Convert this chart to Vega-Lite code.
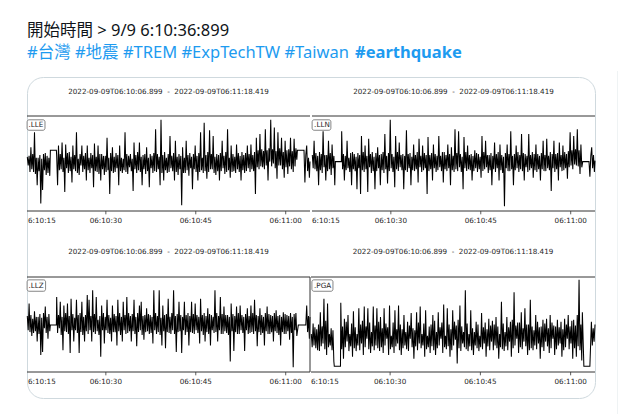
{
  "$schema": "https://vega.github.io/schema/vega-lite/v6.json",
  "background": "#ffffff",
  "padding": {"left": 24, "top": 22, "right": 0, "bottom": 0},
  "spacing": 19,
  "hconcat": [
    {
      "spacing": -1,
      "vconcat": [
        {
          "spacing": 0,
          "hconcat": [
            {
              "width": 328, "height": 1,
              "data": {"values": [{}]},
              "mark": {"type": "text"},
              "encoding": {"text": {"value": ""}},
              "title": {"text": "開始時間 > 9/9 6:10:36:899", "subtitle": "#台灣 #地震 #TREM #ExpTechTW #Taiwan"}
            },
            {
              "width": 110, "height": 1,
              "data": {"values": [{}]},
              "mark": {"type": "text"},
              "encoding": {"text": {"value": ""}},
              "title": {"text": " ", "subtitle": "#earthquake", "subtitleFontWeight": "bold"}
            }
          ]
        },
        {
          "width": 568, "height": 321,
          "view": {"stroke": "#cfd9de", "strokeWidth": 1, "cornerRadius": 16},
          "resolve": {"scale": {"x": "independent", "y": "independent"}},
          "layer": [
            {
              "layer": [
                {"data": {"name": "lle"}, "mark": {"type": "line", "color": "#000000", "strokeWidth": 1.05},
                 "encoding": {"x": {"field": "t", "type": "quantitative", "scale": {"domain": [16.85, 64.05], "range": [0, 283], "nice": false, "zero": false}, "axis": null},
                              "y": {"field": "v", "type": "quantitative", "scale": {"domain": [-50, 50], "range": [134, 39], "nice": false, "zero": false}, "axis": null}}},
                {"data": {"values": [{}]}, "mark": {"type": "rule", "color": "#333333", "strokeWidth": 1},
                 "encoding": {"x": {"datum": 16.85, "type": "quantitative", "scale": {"domain": [16.85, 64.05], "range": [0, 283], "nice": false, "zero": false}, "axis": null}, "x2": {"datum": 64.05},
                              "y": {"datum": 50, "type": "quantitative", "scale": {"domain": [-50, 50], "range": [134, 39], "nice": false, "zero": false}, "axis": null}}},
                {"data": {"values": [{}]}, "mark": {"type": "rule", "color": "#333333", "strokeWidth": 1},
                 "encoding": {"x": {"datum": 16.85, "type": "quantitative", "scale": {"domain": [16.85, 64.05], "range": [0, 283], "nice": false, "zero": false}, "axis": null}, "x2": {"datum": 64.05},
                              "y": {"datum": -50, "type": "quantitative", "scale": {"domain": [-50, 50], "range": [134, 39], "nice": false, "zero": false}, "axis": null}}},
                {"data": {"name": "ticks"}, "mark": {"type": "rule", "color": "#333333", "strokeWidth": 0.8},
                 "encoding": {"x": {"field": "t", "type": "quantitative", "scale": {"domain": [16.85, 64.05], "range": [0, 283], "nice": false, "zero": false}, "axis": null},
                              "y": {"datum": -50, "type": "quantitative", "scale": {"domain": [-50, 50], "range": [134, 39], "nice": false, "zero": false}, "axis": null}, "y2": {"datum": -53.5}}},
                {"data": {"name": "ticks"}, "mark": {"type": "text", "font": "DejaVu Sans", "fontSize": 7.2, "color": "#262626", "baseline": "middle", "dy": 10},
                 "encoding": {"x": {"field": "t", "type": "quantitative", "scale": {"domain": [16.85, 64.05], "range": [0, 283], "nice": false, "zero": false}, "axis": null},
                              "y": {"datum": -50, "type": "quantitative", "scale": {"domain": [-50, 50], "range": [134, 39], "nice": false, "zero": false}, "axis": null}, "text": {"field": "l"}}},
                {"data": {"values": [{"l": "6:10:15"}]}, "mark": {"type": "text", "font": "DejaVu Sans", "fontSize": 7.2, "color": "#262626", "baseline": "middle", "align": "left", "dx": 1, "dy": 10},
                 "encoding": {"x": {"datum": 16.85, "type": "quantitative", "scale": {"domain": [16.85, 64.05], "range": [0, 283], "nice": false, "zero": false}, "axis": null},
                              "y": {"datum": -50, "type": "quantitative", "scale": {"domain": [-50, 50], "range": [134, 39], "nice": false, "zero": false}, "axis": null}, "text": {"field": "l"}}},
                {"data": {"values": [{"l": "2022-09-09T06:10:06.899\u00a0 -\u00a0 2022-09-09T06:11:18.419"}]}, "mark": {"type": "text", "font": "DejaVu Sans", "fontSize": 7.2, "color": "#262626", "baseline": "middle", "dy": -24},
                 "encoding": {"x": {"datum": 40.45, "type": "quantitative", "scale": {"domain": [16.85, 64.05], "range": [0, 283], "nice": false, "zero": false}, "axis": null},
                              "y": {"datum": 50, "type": "quantitative", "scale": {"domain": [-50, 50], "range": [134, 39], "nice": false, "zero": false}, "axis": null}, "text": {"field": "l"}}},
                {"data": {"values": [{}]}, "mark": {"type": "rect", "fill": "#ffffff", "fillOpacity": 0.85, "stroke": "#666666", "strokeWidth": 0.8, "cornerRadius": 2},
                 "encoding": {"x": {"datum": 16.87, "type": "quantitative", "scale": {"domain": [16.85, 64.05], "range": [0, 283], "nice": false, "zero": false}, "axis": null}, "x2": {"datum": 19.85},
                              "y": {"datum": 46, "type": "quantitative", "scale": {"domain": [-50, 50], "range": [134, 39], "nice": false, "zero": false}, "axis": null}, "y2": {"datum": 35}}},
                {"data": {"values": [{"l": ".LLE"}]}, "mark": {"type": "text", "font": "DejaVu Sans", "fontSize": 7.2, "color": "#262626", "baseline": "middle", "align": "left"},
                 "encoding": {"x": {"datum": 17.1, "type": "quantitative", "scale": {"domain": [16.85, 64.05], "range": [0, 283], "nice": false, "zero": false}, "axis": null},
                              "y": {"datum": 40.5, "type": "quantitative", "scale": {"domain": [-50, 50], "range": [134, 39], "nice": false, "zero": false}, "axis": null}, "text": {"field": "l"}}}
              ]
            },
            {
              "layer": [
                {"data": {"name": "lln"}, "mark": {"type": "line", "color": "#000000", "strokeWidth": 1.05},
                 "encoding": {"x": {"field": "t", "type": "quantitative", "scale": {"domain": [16.85, 64.05], "range": [285, 568], "nice": false, "zero": false}, "axis": null},
                              "y": {"field": "v", "type": "quantitative", "scale": {"domain": [-50, 50], "range": [134, 39], "nice": false, "zero": false}, "axis": null}}},
                {"data": {"values": [{}]}, "mark": {"type": "rule", "color": "#333333", "strokeWidth": 1},
                 "encoding": {"x": {"datum": 16.85, "type": "quantitative", "scale": {"domain": [16.85, 64.05], "range": [285, 568], "nice": false, "zero": false}, "axis": null}, "x2": {"datum": 64.05},
                              "y": {"datum": 50, "type": "quantitative", "scale": {"domain": [-50, 50], "range": [134, 39], "nice": false, "zero": false}, "axis": null}}},
                {"data": {"values": [{}]}, "mark": {"type": "rule", "color": "#333333", "strokeWidth": 1},
                 "encoding": {"x": {"datum": 16.85, "type": "quantitative", "scale": {"domain": [16.85, 64.05], "range": [285, 568], "nice": false, "zero": false}, "axis": null}, "x2": {"datum": 64.05},
                              "y": {"datum": -50, "type": "quantitative", "scale": {"domain": [-50, 50], "range": [134, 39], "nice": false, "zero": false}, "axis": null}}},
                {"data": {"name": "ticks"}, "mark": {"type": "rule", "color": "#333333", "strokeWidth": 0.8},
                 "encoding": {"x": {"field": "t", "type": "quantitative", "scale": {"domain": [16.85, 64.05], "range": [285, 568], "nice": false, "zero": false}, "axis": null},
                              "y": {"datum": -50, "type": "quantitative", "scale": {"domain": [-50, 50], "range": [134, 39], "nice": false, "zero": false}, "axis": null}, "y2": {"datum": -53.5}}},
                {"data": {"name": "ticks"}, "mark": {"type": "text", "font": "DejaVu Sans", "fontSize": 7.2, "color": "#262626", "baseline": "middle", "dy": 10},
                 "encoding": {"x": {"field": "t", "type": "quantitative", "scale": {"domain": [16.85, 64.05], "range": [285, 568], "nice": false, "zero": false}, "axis": null},
                              "y": {"datum": -50, "type": "quantitative", "scale": {"domain": [-50, 50], "range": [134, 39], "nice": false, "zero": false}, "axis": null}, "text": {"field": "l"}}},
                {"data": {"values": [{"l": "6:10:15"}]}, "mark": {"type": "text", "font": "DejaVu Sans", "fontSize": 7.2, "color": "#262626", "baseline": "middle", "align": "left", "dx": 0, "dy": 10},
                 "encoding": {"x": {"datum": 16.85, "type": "quantitative", "scale": {"domain": [16.85, 64.05], "range": [285, 568], "nice": false, "zero": false}, "axis": null},
                              "y": {"datum": -50, "type": "quantitative", "scale": {"domain": [-50, 50], "range": [134, 39], "nice": false, "zero": false}, "axis": null}, "text": {"field": "l"}}},
                {"data": {"values": [{"l": "2022-09-09T06:10:06.899\u00a0 -\u00a0 2022-09-09T06:11:18.419"}]}, "mark": {"type": "text", "font": "DejaVu Sans", "fontSize": 7.2, "color": "#262626", "baseline": "middle", "dy": -24},
                 "encoding": {"x": {"datum": 40.45, "type": "quantitative", "scale": {"domain": [16.85, 64.05], "range": [285, 568], "nice": false, "zero": false}, "axis": null},
                              "y": {"datum": 50, "type": "quantitative", "scale": {"domain": [-50, 50], "range": [134, 39], "nice": false, "zero": false}, "axis": null}, "text": {"field": "l"}}},
                {"data": {"values": [{}]}, "mark": {"type": "rect", "fill": "#ffffff", "fillOpacity": 0.85, "stroke": "#666666", "strokeWidth": 0.8, "cornerRadius": 2},
                 "encoding": {"x": {"datum": 16.87, "type": "quantitative", "scale": {"domain": [16.85, 64.05], "range": [285, 568], "nice": false, "zero": false}, "axis": null}, "x2": {"datum": 20.0},
                              "y": {"datum": 46, "type": "quantitative", "scale": {"domain": [-50, 50], "range": [134, 39], "nice": false, "zero": false}, "axis": null}, "y2": {"datum": 35}}},
                {"data": {"values": [{"l": ".LLN"}]}, "mark": {"type": "text", "font": "DejaVu Sans", "fontSize": 7.2, "color": "#262626", "baseline": "middle", "align": "left"},
                 "encoding": {"x": {"datum": 17.2, "type": "quantitative", "scale": {"domain": [16.85, 64.05], "range": [285, 568], "nice": false, "zero": false}, "axis": null},
                              "y": {"datum": 40.5, "type": "quantitative", "scale": {"domain": [-50, 50], "range": [134, 39], "nice": false, "zero": false}, "axis": null}, "text": {"field": "l"}}}
              ]
            },
            {
              "layer": [
                {"data": {"name": "llz"}, "mark": {"type": "line", "color": "#000000", "strokeWidth": 1.05},
                 "encoding": {"x": {"field": "t", "type": "quantitative", "scale": {"domain": [16.85, 64.05], "range": [0, 283], "nice": false, "zero": false}, "axis": null},
                              "y": {"field": "v", "type": "quantitative", "scale": {"domain": [-50, 50], "range": [295, 200], "nice": false, "zero": false}, "axis": null}}},
                {"data": {"values": [{}]}, "mark": {"type": "rule", "color": "#333333", "strokeWidth": 1},
                 "encoding": {"x": {"datum": 16.85, "type": "quantitative", "scale": {"domain": [16.85, 64.05], "range": [0, 283], "nice": false, "zero": false}, "axis": null}, "x2": {"datum": 64.05},
                              "y": {"datum": 50, "type": "quantitative", "scale": {"domain": [-50, 50], "range": [295, 200], "nice": false, "zero": false}, "axis": null}}},
                {"data": {"values": [{}]}, "mark": {"type": "rule", "color": "#333333", "strokeWidth": 1},
                 "encoding": {"x": {"datum": 16.85, "type": "quantitative", "scale": {"domain": [16.85, 64.05], "range": [0, 283], "nice": false, "zero": false}, "axis": null}, "x2": {"datum": 64.05},
                              "y": {"datum": -50, "type": "quantitative", "scale": {"domain": [-50, 50], "range": [295, 200], "nice": false, "zero": false}, "axis": null}}},
                {"data": {"values": [{}]}, "mark": {"type": "rule", "color": "#333333", "strokeWidth": 1},
                 "encoding": {"x": {"datum": 64.05, "type": "quantitative", "scale": {"domain": [16.85, 64.05], "range": [0, 283], "nice": false, "zero": false}, "axis": null},
                              "y": {"datum": -50, "type": "quantitative", "scale": {"domain": [-50, 50], "range": [295, 200], "nice": false, "zero": false}, "axis": null}, "y2": {"datum": 50}}},
                {"data": {"name": "ticks"}, "mark": {"type": "rule", "color": "#333333", "strokeWidth": 0.8},
                 "encoding": {"x": {"field": "t", "type": "quantitative", "scale": {"domain": [16.85, 64.05], "range": [0, 283], "nice": false, "zero": false}, "axis": null},
                              "y": {"datum": -50, "type": "quantitative", "scale": {"domain": [-50, 50], "range": [295, 200], "nice": false, "zero": false}, "axis": null}, "y2": {"datum": -53.5}}},
                {"data": {"name": "ticks"}, "mark": {"type": "text", "font": "DejaVu Sans", "fontSize": 7.2, "color": "#262626", "baseline": "middle", "dy": 10},
                 "encoding": {"x": {"field": "t", "type": "quantitative", "scale": {"domain": [16.85, 64.05], "range": [0, 283], "nice": false, "zero": false}, "axis": null},
                              "y": {"datum": -50, "type": "quantitative", "scale": {"domain": [-50, 50], "range": [295, 200], "nice": false, "zero": false}, "axis": null}, "text": {"field": "l"}}},
                {"data": {"values": [{"l": "6:10:15"}]}, "mark": {"type": "text", "font": "DejaVu Sans", "fontSize": 7.2, "color": "#262626", "baseline": "middle", "align": "left", "dx": 1, "dy": 10},
                 "encoding": {"x": {"datum": 16.85, "type": "quantitative", "scale": {"domain": [16.85, 64.05], "range": [0, 283], "nice": false, "zero": false}, "axis": null},
                              "y": {"datum": -50, "type": "quantitative", "scale": {"domain": [-50, 50], "range": [295, 200], "nice": false, "zero": false}, "axis": null}, "text": {"field": "l"}}},
                {"data": {"values": [{"l": "2022-09-09T06:10:06.899\u00a0 -\u00a0 2022-09-09T06:11:18.419"}]}, "mark": {"type": "text", "font": "DejaVu Sans", "fontSize": 7.2, "color": "#262626", "baseline": "middle", "dy": -25},
                 "encoding": {"x": {"datum": 40.45, "type": "quantitative", "scale": {"domain": [16.85, 64.05], "range": [0, 283], "nice": false, "zero": false}, "axis": null},
                              "y": {"datum": 50, "type": "quantitative", "scale": {"domain": [-50, 50], "range": [295, 200], "nice": false, "zero": false}, "axis": null}, "text": {"field": "l"}}},
                {"data": {"values": [{}]}, "mark": {"type": "rect", "fill": "#ffffff", "fillOpacity": 0.85, "stroke": "#666666", "strokeWidth": 0.8, "cornerRadius": 2},
                 "encoding": {"x": {"datum": 16.87, "type": "quantitative", "scale": {"domain": [16.85, 64.05], "range": [0, 283], "nice": false, "zero": false}, "axis": null}, "x2": {"datum": 19.95},
                              "y": {"datum": 47, "type": "quantitative", "scale": {"domain": [-50, 50], "range": [295, 200], "nice": false, "zero": false}, "axis": null}, "y2": {"datum": 35}}},
                {"data": {"values": [{"l": ".LLZ"}]}, "mark": {"type": "text", "font": "DejaVu Sans", "fontSize": 7.2, "color": "#262626", "baseline": "middle", "align": "left"},
                 "encoding": {"x": {"datum": 17.1, "type": "quantitative", "scale": {"domain": [16.85, 64.05], "range": [0, 283], "nice": false, "zero": false}, "axis": null},
                              "y": {"datum": 41, "type": "quantitative", "scale": {"domain": [-50, 50], "range": [295, 200], "nice": false, "zero": false}, "axis": null}, "text": {"field": "l"}}}
              ]
            },
            {
              "layer": [
                {"data": {"name": "pga"}, "mark": {"type": "line", "color": "#000000", "strokeWidth": 1.05},
                 "encoding": {"x": {"field": "t", "type": "quantitative", "scale": {"domain": [16.85, 64.05], "range": [284, 568], "nice": false, "zero": false}, "axis": null},
                              "y": {"field": "v", "type": "quantitative", "scale": {"domain": [-50, 50], "range": [295, 200], "nice": false, "zero": false}, "axis": null}}},
                {"data": {"values": [{}]}, "mark": {"type": "rule", "color": "#333333", "strokeWidth": 1},
                 "encoding": {"x": {"datum": 16.85, "type": "quantitative", "scale": {"domain": [16.85, 64.05], "range": [284, 568], "nice": false, "zero": false}, "axis": null}, "x2": {"datum": 64.05},
                              "y": {"datum": 50, "type": "quantitative", "scale": {"domain": [-50, 50], "range": [295, 200], "nice": false, "zero": false}, "axis": null}}},
                {"data": {"values": [{}]}, "mark": {"type": "rule", "color": "#333333", "strokeWidth": 1},
                 "encoding": {"x": {"datum": 16.85, "type": "quantitative", "scale": {"domain": [16.85, 64.05], "range": [284, 568], "nice": false, "zero": false}, "axis": null}, "x2": {"datum": 64.05},
                              "y": {"datum": -50, "type": "quantitative", "scale": {"domain": [-50, 50], "range": [295, 200], "nice": false, "zero": false}, "axis": null}}},
                {"data": {"name": "ticks"}, "mark": {"type": "rule", "color": "#333333", "strokeWidth": 0.8},
                 "encoding": {"x": {"field": "t", "type": "quantitative", "scale": {"domain": [16.85, 64.05], "range": [284, 568], "nice": false, "zero": false}, "axis": null},
                              "y": {"datum": -50, "type": "quantitative", "scale": {"domain": [-50, 50], "range": [295, 200], "nice": false, "zero": false}, "axis": null}, "y2": {"datum": -53.5}}},
                {"data": {"name": "ticks"}, "mark": {"type": "text", "font": "DejaVu Sans", "fontSize": 7.2, "color": "#262626", "baseline": "middle", "dy": 10},
                 "encoding": {"x": {"field": "t", "type": "quantitative", "scale": {"domain": [16.85, 64.05], "range": [284, 568], "nice": false, "zero": false}, "axis": null},
                              "y": {"datum": -50, "type": "quantitative", "scale": {"domain": [-50, 50], "range": [295, 200], "nice": false, "zero": false}, "axis": null}, "text": {"field": "l"}}},
                {"data": {"values": [{"l": "6:10:15"}]}, "mark": {"type": "text", "font": "DejaVu Sans", "fontSize": 7.2, "color": "#262626", "baseline": "middle", "align": "left", "dx": 0, "dy": 10},
                 "encoding": {"x": {"datum": 16.85, "type": "quantitative", "scale": {"domain": [16.85, 64.05], "range": [284, 568], "nice": false, "zero": false}, "axis": null},
                              "y": {"datum": -50, "type": "quantitative", "scale": {"domain": [-50, 50], "range": [295, 200], "nice": false, "zero": false}, "axis": null}, "text": {"field": "l"}}},
                {"data": {"values": [{"l": "2022-09-09T06:10:06.899\u00a0 -\u00a0 2022-09-09T06:11:18.419"}]}, "mark": {"type": "text", "font": "DejaVu Sans", "fontSize": 7.2, "color": "#262626", "baseline": "middle", "dy": -25},
                 "encoding": {"x": {"datum": 40.45, "type": "quantitative", "scale": {"domain": [16.85, 64.05], "range": [284, 568], "nice": false, "zero": false}, "axis": null},
                              "y": {"datum": 50, "type": "quantitative", "scale": {"domain": [-50, 50], "range": [295, 200], "nice": false, "zero": false}, "axis": null}, "text": {"field": "l"}}},
                {"data": {"values": [{}]}, "mark": {"type": "rect", "fill": "#ffffff", "fillOpacity": 0.85, "stroke": "#666666", "strokeWidth": 0.8, "cornerRadius": 2},
                 "encoding": {"x": {"datum": 17.0, "type": "quantitative", "scale": {"domain": [16.85, 64.05], "range": [284, 568], "nice": false, "zero": false}, "axis": null}, "x2": {"datum": 20.5},
                              "y": {"datum": 47, "type": "quantitative", "scale": {"domain": [-50, 50], "range": [295, 200], "nice": false, "zero": false}, "axis": null}, "y2": {"datum": 35}}},
                {"data": {"values": [{"l": ".PGA"}]}, "mark": {"type": "text", "font": "DejaVu Sans", "fontSize": 7.2, "color": "#262626", "baseline": "middle", "align": "left"},
                 "encoding": {"x": {"datum": 17.35, "type": "quantitative", "scale": {"domain": [16.85, 64.05], "range": [284, 568], "nice": false, "zero": false}, "axis": null},
                              "y": {"datum": 41, "type": "quantitative", "scale": {"domain": [-50, 50], "range": [295, 200], "nice": false, "zero": false}, "axis": null}, "text": {"field": "l"}}}
              ]
            }
          ]
        }
      ]
    },
    {
      "width": 1, "height": 392,
      "data": {"values": [{}]},
      "mark": {"type": "text"},
      "encoding": {"text": {"value": ""}},
      "view": {"fill": "#eff3f4", "stroke": null}
    }
  ],
  "config": {
    "view": {"stroke": null},
    "title": {
      "anchor": "start", "frame": "group", "offset": 0,
      "font": "Noto Sans, Noto Sans CJK TC", "fontSize": 16.5, "fontWeight": "normal", "color": "#0f1419",
      "subtitleFont": "Noto Sans, Noto Sans CJK TC", "subtitleFontSize": 16.5, "subtitleColor": "#1d9bf0", "subtitlePadding": 6
    }
  },
  "datasets": {
    "ticks": [{"t": 30, "l": "06:10:30"}, {"t": 45, "l": "06:10:45"}, {"t": 60, "l": "06:11:00"}],
    "lle": [
      {"t":16.9,"v":7},{"t":17.05,"v":-2},{"t":17.2,"v":8},{"t":17.35,"v":-9},{"t":17.5,"v":17},{"t":17.65,"v":-6},{"t":17.8,"v":10},{"t":17.95,"v":-9},{"t":18.1,"v":33},{"t":18.25,"v":-11},{"t":18.4,"v":6},{"t":18.55,"v":-23},{"t":18.7,"v":6},{"t":18.85,"v":-8},{"t":19.0,"v":9},{"t":19.15,"v":-42},{"t":19.3,"v":5},{"t":19.45,"v":-28},{"t":19.6,"v":10},{"t":19.75,"v":-7},{"t":19.9,"v":11},{"t":20.05,"v":-12},{"t":20.2,"v":8},{"t":20.35,"v":-10},{"t":20.5,"v":6},{"t":20.65,"v":-13},{"t":20.75,"v":14},{"t":21.75,"v":14},
      {"t":21.8,"v":8},{"t":21.95,"v":-23},{"t":22.1,"v":19},{"t":22.25,"v":-7},{"t":22.4,"v":10},{"t":22.55,"v":-6},{"t":22.7,"v":22},{"t":22.85,"v":-9},{"t":23.0,"v":6},{"t":23.15,"v":-30},{"t":23.3,"v":20},{"t":23.45,"v":-5},{"t":23.6,"v":11},{"t":23.75,"v":-10},{"t":23.9,"v":12},{"t":24.05,"v":-8},{"t":24.2,"v":7},{"t":24.35,"v":-20},{"t":24.5,"v":19},{"t":24.65,"v":-6},{"t":24.8,"v":9},{"t":24.95,"v":-8},
      {"t":25.1,"v":33},{"t":25.25,"v":-10},{"t":25.4,"v":5},{"t":25.55,"v":-12},{"t":25.7,"v":10},{"t":25.85,"v":-2},{"t":26.0,"v":19},{"t":26.15,"v":-9},{"t":26.3,"v":8},{"t":26.45,"v":-6},{"t":26.6,"v":11},{"t":26.75,"v":-18},{"t":26.9,"v":19},{"t":27.05,"v":-7},{"t":27.2,"v":6},{"t":27.35,"v":-10},{"t":27.5,"v":11},{"t":27.65,"v":-5},{"t":27.8,"v":9},{"t":27.95,"v":-25},
      {"t":28.1,"v":21},{"t":28.25,"v":-8},{"t":28.4,"v":7},{"t":28.55,"v":-9},{"t":28.7,"v":19},{"t":28.85,"v":-11},{"t":29.0,"v":10},{"t":29.15,"v":-18},{"t":29.3,"v":10},{"t":29.45,"v":-6},{"t":29.6,"v":8},{"t":29.75,"v":-12},{"t":29.9,"v":8},{"t":30.05,"v":-9},{"t":30.2,"v":27},{"t":30.35,"v":-7},{"t":30.5,"v":6},{"t":30.65,"v":-32},{"t":30.8,"v":11},{"t":30.95,"v":-8},
      {"t":31.1,"v":17},{"t":31.25,"v":-10},{"t":31.4,"v":7},{"t":31.55,"v":-9},{"t":31.7,"v":11},{"t":31.85,"v":-5},{"t":32.0,"v":9},{"t":32.15,"v":-23},{"t":32.3,"v":19},{"t":32.45,"v":-8},{"t":32.6,"v":6},{"t":32.75,"v":-10},{"t":32.9,"v":5},{"t":33.05,"v":-7},{"t":33.2,"v":33},{"t":33.35,"v":-9},{"t":33.5,"v":10},{"t":33.65,"v":-11},{"t":33.8,"v":8},{"t":33.95,"v":-4},
      {"t":34.1,"v":10},{"t":34.25,"v":-8},{"t":34.4,"v":5},{"t":34.55,"v":-29},{"t":34.7,"v":22},{"t":34.85,"v":-6},{"t":35.0,"v":9},{"t":35.15,"v":-10},{"t":35.3,"v":12},{"t":35.45,"v":-7},{"t":35.6,"v":22},{"t":35.75,"v":-9},{"t":35.9,"v":7},{"t":36.05,"v":-23},{"t":36.2,"v":9},{"t":36.35,"v":-6},{"t":36.5,"v":10},{"t":36.65,"v":-11},{"t":36.8,"v":17},{"t":36.95,"v":-8},
      {"t":37.1,"v":6},{"t":37.25,"v":-25},{"t":37.4,"v":10},{"t":37.55,"v":-5},{"t":37.7,"v":8},{"t":37.85,"v":-10},{"t":38.0,"v":11},{"t":38.15,"v":-8},{"t":38.3,"v":36},{"t":38.45,"v":-9},{"t":38.6,"v":10},{"t":38.75,"v":-6},{"t":38.9,"v":7},{"t":39.05,"v":-23},{"t":39.2,"v":46},{"t":39.35,"v":-10},{"t":39.5,"v":9},{"t":39.65,"v":-18},{"t":39.8,"v":12},{"t":39.95,"v":-7},
      {"t":40.1,"v":6},{"t":40.25,"v":-10},{"t":40.4,"v":10},{"t":40.55,"v":-9},{"t":40.7,"v":29},{"t":40.85,"v":-5},{"t":41.0,"v":8},{"t":41.15,"v":-8},{"t":41.3,"v":11},{"t":41.45,"v":-18},{"t":41.6,"v":24},{"t":41.75,"v":-9},{"t":41.9,"v":7},{"t":42.05,"v":-12},{"t":42.2,"v":10},{"t":42.35,"v":-6},{"t":42.5,"v":8},{"t":42.65,"v":-44},{"t":42.8,"v":17},{"t":42.95,"v":-10},
      {"t":43.1,"v":6},{"t":43.25,"v":-10},{"t":43.4,"v":24},{"t":43.55,"v":-7},{"t":43.7,"v":9},{"t":43.85,"v":-13},{"t":44.0,"v":11},{"t":44.15,"v":-5},{"t":44.3,"v":7},{"t":44.45,"v":-27},{"t":44.6,"v":10},{"t":44.75,"v":-6},{"t":44.9,"v":19},{"t":45.05,"v":-9},{"t":45.2,"v":8},{"t":45.35,"v":-18},{"t":45.5,"v":11},{"t":45.65,"v":-9},{"t":45.8,"v":33},{"t":45.95,"v":-7},
      {"t":46.1,"v":6},{"t":46.25,"v":-10},{"t":46.4,"v":43},{"t":46.55,"v":-8},{"t":46.7,"v":9},{"t":46.85,"v":-16},{"t":47.0,"v":12},{"t":47.15,"v":-9},{"t":47.3,"v":35},{"t":47.45,"v":-6},{"t":47.6,"v":10},{"t":47.75,"v":-6},{"t":47.9,"v":29},{"t":48.05,"v":-10},{"t":48.2,"v":7},{"t":48.35,"v":-12},{"t":48.5,"v":10},{"t":48.65,"v":-8},{"t":48.8,"v":9},{"t":48.95,"v":-18},
      {"t":49.1,"v":11},{"t":49.25,"v":-8},{"t":49.4,"v":24},{"t":49.55,"v":-5},{"t":49.7,"v":8},{"t":49.85,"v":-11},{"t":50.0,"v":12},{"t":50.15,"v":-9},{"t":50.3,"v":36},{"t":50.45,"v":-7},{"t":50.6,"v":6},{"t":50.75,"v":-15},{"t":50.9,"v":19},{"t":51.05,"v":-9},{"t":51.2,"v":10},{"t":51.35,"v":-8},{"t":51.5,"v":7},{"t":51.65,"v":-10},{"t":51.8,"v":20},{"t":51.95,"v":-6},
      {"t":52.1,"v":11},{"t":52.25,"v":-9},{"t":52.4,"v":8},{"t":52.55,"v":-18},{"t":52.7,"v":12},{"t":52.85,"v":-7},{"t":53.0,"v":9},{"t":53.15,"v":-10},{"t":53.3,"v":11},{"t":53.45,"v":-8},{"t":53.6,"v":19},{"t":53.75,"v":-5},{"t":53.9,"v":10},{"t":54.05,"v":-9},{"t":54.2,"v":20},{"t":54.35,"v":-6},{"t":54.5,"v":9},{"t":54.65,"v":-8},{"t":54.8,"v":12},{"t":54.95,"v":-32},
      {"t":55.1,"v":27},{"t":55.25,"v":-4},{"t":55.4,"v":14},{"t":55.55,"v":-6},{"t":55.7,"v":31},{"t":55.85,"v":-3},{"t":56.0,"v":15},{"t":56.15,"v":-4},{"t":56.3,"v":13},{"t":56.45,"v":-6},{"t":56.6,"v":36},{"t":56.75,"v":-2},{"t":56.9,"v":14},{"t":57.05,"v":-18},{"t":57.2,"v":16},{"t":57.35,"v":2},{"t":57.5,"v":46},{"t":57.65,"v":-3},{"t":57.8,"v":15},{"t":57.95,"v":0},
      {"t":58.1,"v":38},{"t":58.25,"v":-5},{"t":58.4,"v":13},{"t":58.55,"v":-16},{"t":58.7,"v":33},{"t":58.85,"v":-2},{"t":59.0,"v":16},{"t":59.15,"v":-2},{"t":59.3,"v":27},{"t":59.45,"v":-6},{"t":59.6,"v":12},{"t":59.75,"v":-15},{"t":59.9,"v":24},{"t":60.05,"v":-4},{"t":60.2,"v":14},{"t":60.35,"v":-11},{"t":60.5,"v":15},{"t":60.65,"v":-3},{"t":60.8,"v":27},{"t":60.95,"v":-6},
      {"t":61.1,"v":13},{"t":61.25,"v":-9},{"t":61.4,"v":26},{"t":61.55,"v":-3},{"t":61.7,"v":16},{"t":61.85,"v":4},
      {"t":61.95,"v":14},{"t":63.05,"v":14},{"t":63.2,"v":-20},{"t":63.35,"v":9},{"t":63.5,"v":19},{"t":63.65,"v":-8},{"t":63.8,"v":6},{"t":63.95,"v":-15},{"t":64.05,"v":2}
    ],
    "lln": [
      {"t":16.9,"v":9},{"t":17.05,"v":-5},{"t":17.2,"v":24},{"t":17.35,"v":-6},{"t":17.5,"v":11},{"t":17.65,"v":-8},{"t":17.8,"v":8},{"t":17.95,"v":-23},{"t":18.1,"v":12},{"t":18.25,"v":-7},{"t":18.4,"v":10},{"t":18.55,"v":-10},{"t":18.7,"v":34},{"t":18.85,"v":-4},{"t":19.0,"v":9},{"t":19.15,"v":-18},{"t":19.3,"v":9},{"t":19.45,"v":-8},{"t":19.6,"v":24},{"t":19.75,"v":-6},{"t":19.9,"v":11},{"t":20.05,"v":-12},{"t":20.2,"v":20},{"t":20.35,"v":-5},{"t":20.5,"v":8},{"t":20.65,"v":-23},{"t":20.75,"v":2},{"t":21.75,"v":2},
      {"t":21.8,"v":34},{"t":21.95,"v":-6},{"t":22.1,"v":10},{"t":22.25,"v":-18},{"t":22.4,"v":8},{"t":22.55,"v":-7},{"t":22.7,"v":24},{"t":22.85,"v":-5},{"t":23.0,"v":6},{"t":23.15,"v":-9},{"t":23.3,"v":11},{"t":23.45,"v":-23},{"t":23.6,"v":12},{"t":23.75,"v":-6},{"t":23.9,"v":10},{"t":24.05,"v":-8},{"t":24.2,"v":7},{"t":24.35,"v":-27},{"t":24.5,"v":11},{"t":24.65,"v":-5},{"t":24.8,"v":9},{"t":24.95,"v":-32},
      {"t":25.1,"v":29},{"t":25.25,"v":-7},{"t":25.4,"v":12},{"t":25.55,"v":-9},{"t":25.7,"v":19},{"t":25.85,"v":-6},{"t":26.0,"v":8},{"t":26.15,"v":-30},{"t":26.3,"v":26},{"t":26.45,"v":-4},{"t":26.6,"v":10},{"t":26.75,"v":-10},{"t":26.9,"v":12},{"t":27.05,"v":-8},{"t":27.2,"v":7},{"t":27.35,"v":-27},{"t":27.5,"v":11},{"t":27.65,"v":-8},{"t":27.8,"v":17},{"t":27.95,"v":-5},
      {"t":28.1,"v":9},{"t":28.25,"v":-23},{"t":28.4,"v":10},{"t":28.55,"v":-7},{"t":28.7,"v":12},{"t":28.85,"v":-10},{"t":29.0,"v":31},{"t":29.15,"v":-6},{"t":29.3,"v":8},{"t":29.45,"v":-21},{"t":29.6,"v":11},{"t":29.75,"v":-8},{"t":29.9,"v":46},{"t":30.05,"v":-5},{"t":30.2,"v":10},{"t":30.35,"v":-9},{"t":30.5,"v":7},{"t":30.65,"v":-25},{"t":30.8,"v":29},{"t":30.95,"v":-6},
      {"t":31.1,"v":12},{"t":31.25,"v":-8},{"t":31.4,"v":22},{"t":31.55,"v":-4},{"t":31.7,"v":9},{"t":31.85,"v":-7},{"t":32.0,"v":10},{"t":32.15,"v":-27},{"t":32.3,"v":8},{"t":32.45,"v":-7},{"t":32.6,"v":35},{"t":32.75,"v":-9},{"t":32.9,"v":10},{"t":33.05,"v":-5},{"t":33.2,"v":11},{"t":33.35,"v":-23},{"t":33.5,"v":7},{"t":33.65,"v":-7},{"t":33.8,"v":20},{"t":33.95,"v":-8},
      {"t":34.1,"v":9},{"t":34.25,"v":-6},{"t":34.4,"v":12},{"t":34.55,"v":-20},{"t":34.7,"v":26},{"t":34.85,"v":-4},{"t":35.0,"v":8},{"t":35.15,"v":-9},{"t":35.3,"v":19},{"t":35.45,"v":-7},{"t":35.6,"v":11},{"t":35.75,"v":-5},{"t":35.9,"v":9},{"t":36.05,"v":-32},{"t":36.2,"v":28},{"t":36.35,"v":-8},{"t":36.5,"v":9},{"t":36.65,"v":-6},{"t":36.8,"v":11},{"t":36.95,"v":-18},
      {"t":37.1,"v":20},{"t":37.25,"v":-5},{"t":37.4,"v":10},{"t":37.55,"v":-9},{"t":37.7,"v":8},{"t":37.85,"v":-7},{"t":38.0,"v":29},{"t":38.15,"v":-4},{"t":38.3,"v":8},{"t":38.45,"v":-8},{"t":38.6,"v":12},{"t":38.75,"v":-20},{"t":38.9,"v":12},{"t":39.05,"v":-6},{"t":39.2,"v":9},{"t":39.35,"v":-8},{"t":39.5,"v":20},{"t":39.65,"v":-5},{"t":39.8,"v":10},{"t":39.95,"v":-23},
      {"t":40.1,"v":17},{"t":40.25,"v":-7},{"t":40.4,"v":8},{"t":40.55,"v":-9},{"t":40.7,"v":36},{"t":40.85,"v":-6},{"t":41.0,"v":11},{"t":41.15,"v":-8},{"t":41.3,"v":34},{"t":41.45,"v":-4},{"t":41.6,"v":10},{"t":41.75,"v":-9},{"t":41.9,"v":7},{"t":42.05,"v":-27},{"t":42.2,"v":28},{"t":42.35,"v":-5},{"t":42.5,"v":12},{"t":42.65,"v":-8},{"t":42.8,"v":19},{"t":42.95,"v":-6},
      {"t":43.1,"v":9},{"t":43.25,"v":-7},{"t":43.4,"v":10},{"t":43.55,"v":-18},{"t":43.7,"v":8},{"t":43.85,"v":-8},{"t":44.0,"v":14},{"t":44.15,"v":-5},{"t":44.3,"v":11},{"t":44.45,"v":-9},{"t":44.6,"v":10},{"t":44.75,"v":-6},{"t":44.9,"v":7},{"t":45.05,"v":-15},{"t":45.2,"v":29},{"t":45.35,"v":-8},{"t":45.5,"v":12},{"t":45.65,"v":-6},{"t":45.8,"v":24},{"t":45.95,"v":-4},
      {"t":46.1,"v":9},{"t":46.25,"v":-10},{"t":46.4,"v":9},{"t":46.55,"v":-7},{"t":46.7,"v":11},{"t":46.85,"v":-23},{"t":47.0,"v":8},{"t":47.15,"v":-6},{"t":47.3,"v":22},{"t":47.45,"v":-9},{"t":47.6,"v":10},{"t":47.75,"v":-5},{"t":47.9,"v":12},{"t":48.05,"v":-18},{"t":48.2,"v":20},{"t":48.35,"v":-7},{"t":48.5,"v":9},{"t":48.65,"v":-10},{"t":48.8,"v":7},{"t":48.95,"v":-45},
      {"t":49.1,"v":11},{"t":49.25,"v":-5},{"t":49.4,"v":20},{"t":49.55,"v":-8},{"t":49.7,"v":10},{"t":49.85,"v":-8},{"t":50.0,"v":34},{"t":50.15,"v":-6},{"t":50.3,"v":8},{"t":50.45,"v":-23},{"t":50.6,"v":10},{"t":50.75,"v":-7},{"t":50.9,"v":19},{"t":51.05,"v":-5},{"t":51.2,"v":12},{"t":51.35,"v":-9},{"t":51.5,"v":9},{"t":51.65,"v":-6},{"t":51.8,"v":31},{"t":51.95,"v":-8},
      {"t":52.1,"v":11},{"t":52.25,"v":-18},{"t":52.4,"v":10},{"t":52.55,"v":-4},{"t":52.7,"v":8},{"t":52.85,"v":-9},{"t":53.0,"v":31},{"t":53.15,"v":-7},{"t":53.3,"v":9},{"t":53.45,"v":-5},{"t":53.6,"v":12},{"t":53.75,"v":-15},{"t":53.9,"v":10},{"t":54.05,"v":-7},{"t":54.2,"v":20},{"t":54.35,"v":-9},{"t":54.5,"v":10},{"t":54.65,"v":-6},{"t":54.8,"v":8},{"t":54.95,"v":-18},
      {"t":55.1,"v":11},{"t":55.25,"v":-6},{"t":55.4,"v":24},{"t":55.55,"v":-8},{"t":55.7,"v":9},{"t":55.85,"v":-8},{"t":56.0,"v":26},{"t":56.15,"v":-5},{"t":56.3,"v":8},{"t":56.45,"v":-7},{"t":56.6,"v":12},{"t":56.75,"v":-29},{"t":56.9,"v":10},{"t":57.05,"v":-5},{"t":57.2,"v":24},{"t":57.35,"v":-9},{"t":57.5,"v":10},{"t":57.65,"v":-6},{"t":57.8,"v":11},{"t":57.95,"v":-18},
      {"t":58.1,"v":22},{"t":58.25,"v":-4},{"t":58.4,"v":9},{"t":58.55,"v":-8},{"t":58.7,"v":19},{"t":58.85,"v":-7},{"t":59.0,"v":12},{"t":59.15,"v":-5},{"t":59.3,"v":10},{"t":59.45,"v":-16},{"t":59.6,"v":13},{"t":59.75,"v":-4},{"t":59.9,"v":33},{"t":60.05,"v":-2},{"t":60.2,"v":14},{"t":60.35,"v":-6},{"t":60.5,"v":29},{"t":60.65,"v":-1},{"t":60.8,"v":15},{"t":60.95,"v":-2},
      {"t":61.1,"v":36},{"t":61.25,"v":-3},{"t":61.4,"v":14},{"t":61.55,"v":-11},{"t":61.7,"v":20},{"t":61.85,"v":-4},
      {"t":62.0,"v":2},{"t":63.05,"v":2},{"t":63.2,"v":-14},{"t":63.35,"v":8},{"t":63.5,"v":17},{"t":63.65,"v":-5},{"t":63.8,"v":9},{"t":63.95,"v":-9},{"t":64.05,"v":3}
    ],
    "llz": [
      {"t":16.9,"v":9},{"t":17.05,"v":-6},{"t":17.2,"v":22},{"t":17.35,"v":-8},{"t":17.5,"v":10},{"t":17.65,"v":-12},{"t":17.8,"v":6},{"t":17.95,"v":-9},{"t":18.1,"v":14},{"t":18.25,"v":-7},{"t":18.4,"v":8},{"t":18.55,"v":-18},{"t":18.7,"v":8},{"t":18.85,"v":-10},{"t":19.0,"v":11},{"t":19.15,"v":-32},{"t":19.3,"v":7},{"t":19.45,"v":-29},{"t":19.6,"v":12},{"t":19.75,"v":-4},{"t":19.9,"v":19},{"t":20.05,"v":-9},{"t":20.2,"v":8},{"t":20.35,"v":-15},{"t":20.5,"v":11},{"t":20.65,"v":-7},{"t":20.75,"v":-0.5},{"t":21.75,"v":-0.5},
      {"t":21.8,"v":29},{"t":21.95,"v":-9},{"t":22.1,"v":10},{"t":22.25,"v":-4},{"t":22.4,"v":24},{"t":22.55,"v":-11},{"t":22.7,"v":8},{"t":22.85,"v":-27},{"t":23.0,"v":20},{"t":23.15,"v":-7},{"t":23.3,"v":12},{"t":23.45,"v":-8},{"t":23.6,"v":22},{"t":23.75,"v":-10},{"t":23.9,"v":9},{"t":24.05,"v":-30},{"t":24.2,"v":27},{"t":24.35,"v":-6},{"t":24.5,"v":11},{"t":24.65,"v":-18},{"t":24.8,"v":7},{"t":24.95,"v":-6},
      {"t":25.1,"v":26},{"t":25.25,"v":-9},{"t":25.4,"v":10},{"t":25.55,"v":-30},{"t":25.7,"v":12},{"t":25.85,"v":-8},{"t":26.0,"v":24},{"t":26.15,"v":-11},{"t":26.3,"v":8},{"t":26.45,"v":-18},{"t":26.6,"v":10},{"t":26.75,"v":-7},{"t":26.9,"v":31},{"t":27.05,"v":-10},{"t":27.2,"v":26},{"t":27.35,"v":-6},{"t":27.5,"v":9},{"t":27.65,"v":-18},{"t":27.8,"v":36},{"t":27.95,"v":-8},
      {"t":28.1,"v":11},{"t":28.25,"v":-10},{"t":28.4,"v":29},{"t":28.55,"v":-7},{"t":28.7,"v":5},{"t":28.85,"v":-11},{"t":29.0,"v":9},{"t":29.15,"v":-34},{"t":29.3,"v":20},{"t":29.45,"v":-6},{"t":29.6,"v":12},{"t":29.75,"v":-20},{"t":29.9,"v":8},{"t":30.05,"v":-6},{"t":30.2,"v":26},{"t":30.35,"v":-9},{"t":30.5,"v":10},{"t":30.65,"v":-10},{"t":30.8,"v":7},{"t":30.95,"v":-18},
      {"t":31.1,"v":20},{"t":31.25,"v":-8},{"t":31.4,"v":11},{"t":31.55,"v":-8},{"t":31.7,"v":9},{"t":31.85,"v":-22},{"t":32.0,"v":26},{"t":32.15,"v":-7},{"t":32.3,"v":12},{"t":32.45,"v":-11},{"t":32.6,"v":8},{"t":32.75,"v":-18},{"t":32.9,"v":24},{"t":33.05,"v":-6},{"t":33.2,"v":10},{"t":33.35,"v":-10},{"t":33.5,"v":29},{"t":33.65,"v":-9},{"t":33.8,"v":12},{"t":33.95,"v":-7},
      {"t":34.1,"v":9},{"t":34.25,"v":-18},{"t":34.4,"v":11},{"t":34.55,"v":-7},{"t":34.7,"v":26},{"t":34.85,"v":-10},{"t":35.0,"v":8},{"t":35.15,"v":-23},{"t":35.3,"v":12},{"t":35.45,"v":-8},{"t":35.6,"v":20},{"t":35.75,"v":-6},{"t":35.9,"v":24},{"t":36.05,"v":-11},{"t":36.2,"v":9},{"t":36.35,"v":-16},{"t":36.5,"v":10},{"t":36.65,"v":-8},{"t":36.8,"v":17},{"t":36.95,"v":-7},
      {"t":37.1,"v":11},{"t":37.25,"v":-10},{"t":37.4,"v":10},{"t":37.55,"v":-9},{"t":37.7,"v":8},{"t":37.85,"v":-20},{"t":38.0,"v":36},{"t":38.15,"v":-6},{"t":38.3,"v":12},{"t":38.45,"v":-10},{"t":38.6,"v":9},{"t":38.75,"v":-8},{"t":38.9,"v":36},{"t":39.05,"v":-11},{"t":39.2,"v":7},{"t":39.35,"v":-22},{"t":39.5,"v":20},{"t":39.65,"v":-7},{"t":39.8,"v":10},{"t":39.95,"v":-25},
      {"t":40.1,"v":11},{"t":40.25,"v":-8},{"t":40.4,"v":27},{"t":40.55,"v":-9},{"t":40.7,"v":8},{"t":40.85,"v":-10},{"t":41.0,"v":12},{"t":41.15,"v":-6},{"t":41.3,"v":36},{"t":41.45,"v":-10},{"t":41.6,"v":9},{"t":41.75,"v":-29},{"t":41.9,"v":11},{"t":42.05,"v":-8},{"t":42.2,"v":24},{"t":42.35,"v":-7},{"t":42.5,"v":10},{"t":42.65,"v":-30},{"t":42.8,"v":8},{"t":42.95,"v":-6},
      {"t":43.1,"v":24},{"t":43.25,"v":-11},{"t":43.4,"v":10},{"t":43.55,"v":-8},{"t":43.7,"v":12},{"t":43.85,"v":-22},{"t":44.0,"v":9},{"t":44.15,"v":-8},{"t":44.3,"v":24},{"t":44.45,"v":-9},{"t":44.6,"v":11},{"t":44.75,"v":-10},{"t":44.9,"v":22},{"t":45.05,"v":-6},{"t":45.2,"v":10},{"t":45.35,"v":-9},{"t":45.5,"v":8},{"t":45.65,"v":-20},{"t":45.8,"v":27},{"t":45.95,"v":-7},
      {"t":46.1,"v":10},{"t":46.25,"v":-11},{"t":46.4,"v":12},{"t":46.55,"v":-18},{"t":46.7,"v":9},{"t":46.85,"v":-8},{"t":47.0,"v":17},{"t":47.15,"v":-10},{"t":47.3,"v":11},{"t":47.45,"v":-22},{"t":47.6,"v":10},{"t":47.75,"v":-6},{"t":47.9,"v":8},{"t":48.05,"v":-9},{"t":48.2,"v":36},{"t":48.35,"v":-8},{"t":48.5,"v":12},{"t":48.65,"v":-18},{"t":48.8,"v":9},{"t":48.95,"v":-6},
      {"t":49.1,"v":29},{"t":49.25,"v":-10},{"t":49.4,"v":11},{"t":49.55,"v":-10},{"t":49.7,"v":19},{"t":49.85,"v":-7},{"t":50.0,"v":10},{"t":50.15,"v":-9},{"t":50.3,"v":10},{"t":50.45,"v":-11},{"t":50.6,"v":8},{"t":50.75,"v":-39},{"t":50.9,"v":22},{"t":51.05,"v":-7},{"t":51.2,"v":11},{"t":51.35,"v":-28},{"t":51.5,"v":9},{"t":51.65,"v":-8},{"t":51.8,"v":19},{"t":51.95,"v":-10},
      {"t":52.1,"v":12},{"t":52.25,"v":-10},{"t":52.4,"v":20},{"t":52.55,"v":-6},{"t":52.7,"v":10},{"t":52.85,"v":-9},{"t":53.0,"v":8},{"t":53.15,"v":-28},{"t":53.3,"v":11},{"t":53.45,"v":-6},{"t":53.6,"v":17},{"t":53.75,"v":-10},{"t":53.9,"v":9},{"t":54.05,"v":-9},{"t":54.2,"v":20},{"t":54.35,"v":-8},{"t":54.5,"v":12},{"t":54.65,"v":-10},{"t":54.8,"v":26},{"t":54.95,"v":-7},
      {"t":55.1,"v":10},{"t":55.25,"v":-23},{"t":55.4,"v":9},{"t":55.55,"v":-8},{"t":55.7,"v":17},{"t":55.85,"v":-11},{"t":56.0,"v":10},{"t":56.15,"v":-9},{"t":56.3,"v":8},{"t":56.45,"v":-22},{"t":56.6,"v":12},{"t":56.75,"v":-7},{"t":56.9,"v":19},{"t":57.05,"v":-10},{"t":57.2,"v":11},{"t":57.35,"v":-10},{"t":57.5,"v":10},{"t":57.65,"v":-8},{"t":57.8,"v":9},{"t":57.95,"v":-18},
      {"t":58.1,"v":12},{"t":58.25,"v":-7},{"t":58.4,"v":15},{"t":58.55,"v":-9},{"t":58.7,"v":9},{"t":58.85,"v":-11},{"t":59.0,"v":10},{"t":59.15,"v":-22},{"t":59.3,"v":8},{"t":59.45,"v":-8},{"t":59.6,"v":13},{"t":59.75,"v":-10},{"t":59.9,"v":11},{"t":60.05,"v":-10},{"t":60.2,"v":10},{"t":60.35,"v":-7},{"t":60.5,"v":9},{"t":60.65,"v":-16},{"t":60.8,"v":12},{"t":60.95,"v":-9},
      {"t":61.1,"v":8},{"t":61.25,"v":-45},{"t":61.4,"v":11},{"t":61.55,"v":-6},{"t":61.7,"v":12},{"t":61.85,"v":-12},
      {"t":62.1,"v":-0.5},{"t":63.35,"v":-0.5},{"t":63.5,"v":20},{"t":63.65,"v":-8},{"t":63.8,"v":9},{"t":63.95,"v":-15},{"t":64.05,"v":8}
    ],
    "pga": [
      {"t":16.9,"v":-10},{"t":17.05,"v":-24},{"t":17.2,"v":1},{"t":17.35,"v":-22},{"t":17.5,"v":-3},{"t":17.65,"v":-25},{"t":17.8,"v":-5},{"t":17.95,"v":-27},{"t":18.1,"v":0},{"t":18.25,"v":-28},{"t":18.4,"v":13},{"t":18.55,"v":-23},{"t":18.7,"v":-2},{"t":18.85,"v":-20},{"t":19.0,"v":27},{"t":19.15,"v":-26},{"t":19.3,"v":4},{"t":19.45,"v":-32},{"t":19.6,"v":22},{"t":19.75,"v":-24},{"t":19.9,"v":-10},{"t":20.05,"v":-22},{"t":20.2,"v":-4},{"t":20.35,"v":-27},{"t":20.5,"v":-6},{"t":20.65,"v":-39},{"t":20.72,"v":-44},{"t":21.75,"v":-44},
      {"t":21.8,"v":23},{"t":21.95,"v":-26},{"t":22.1,"v":-2},{"t":22.25,"v":-36},{"t":22.4,"v":6},{"t":22.55,"v":-24},{"t":22.7,"v":3},{"t":22.85,"v":-18},{"t":23.0,"v":10},{"t":23.15,"v":-28},{"t":23.3,"v":-10},{"t":23.45,"v":-23},{"t":23.6,"v":1},{"t":23.75,"v":-34},{"t":23.9,"v":14},{"t":24.05,"v":-25},{"t":24.2,"v":-3},{"t":24.35,"v":-28},{"t":24.5,"v":-10},{"t":24.65,"v":-22},{"t":24.8,"v":17},{"t":24.95,"v":-27},
      {"t":25.1,"v":0},{"t":25.25,"v":-20},{"t":25.4,"v":4},{"t":25.55,"v":-32},{"t":25.7,"v":19},{"t":25.85,"v":-24},{"t":26.0,"v":-2},{"t":26.15,"v":-15},{"t":26.3,"v":17},{"t":26.45,"v":-26},{"t":26.6,"v":2},{"t":26.75,"v":-30},{"t":26.9,"v":-8},{"t":27.05,"v":-23},{"t":27.2,"v":19},{"t":27.35,"v":-27},{"t":27.5,"v":-1},{"t":27.65,"v":-22},{"t":27.8,"v":17},{"t":27.95,"v":-25},
      {"t":28.1,"v":3},{"t":28.25,"v":-28},{"t":28.4,"v":8},{"t":28.55,"v":-24},{"t":28.7,"v":-4},{"t":28.85,"v":-30},{"t":29.0,"v":17},{"t":29.15,"v":-22},{"t":29.3,"v":1},{"t":29.45,"v":-15},{"t":29.6,"v":-3},{"t":29.75,"v":-32},{"t":29.9,"v":20},{"t":30.05,"v":-26},{"t":30.2,"v":-12},{"t":30.35,"v":-24},{"t":30.5,"v":2},{"t":30.65,"v":-30},{"t":30.8,"v":15},{"t":30.95,"v":-23},
      {"t":31.1,"v":-5},{"t":31.25,"v":-20},{"t":31.4,"v":20},{"t":31.55,"v":-27},{"t":31.7,"v":0},{"t":31.85,"v":-32},{"t":32.0,"v":-5},{"t":32.15,"v":-25},{"t":32.3,"v":10},{"t":32.45,"v":-22},{"t":32.6,"v":-8},{"t":32.75,"v":-26},{"t":32.9,"v":3},{"t":33.05,"v":-28},{"t":33.2,"v":-1},{"t":33.35,"v":-15},{"t":33.5,"v":12},{"t":33.65,"v":-24},{"t":33.8,"v":-4},{"t":33.95,"v":-36},
      {"t":34.1,"v":-6},{"t":34.25,"v":-23},{"t":34.4,"v":13},{"t":34.55,"v":-27},{"t":34.7,"v":2},{"t":34.85,"v":-20},{"t":35.0,"v":19},{"t":35.15,"v":-25},{"t":35.3,"v":-10},{"t":35.45,"v":-22},{"t":35.6,"v":1},{"t":35.75,"v":-34},{"t":35.9,"v":15},{"t":36.05,"v":-26},{"t":36.2,"v":-12},{"t":36.35,"v":-24},{"t":36.5,"v":-2},{"t":36.65,"v":-30},{"t":36.8,"v":0},{"t":36.95,"v":-23},
      {"t":37.1,"v":10},{"t":37.25,"v":-27},{"t":37.4,"v":4},{"t":37.55,"v":-32},{"t":37.7,"v":-8},{"t":37.85,"v":-25},{"t":38.0,"v":13},{"t":38.15,"v":-22},{"t":38.3,"v":-3},{"t":38.45,"v":-15},{"t":38.6,"v":2},{"t":38.75,"v":-30},{"t":38.9,"v":21},{"t":39.05,"v":-24},{"t":39.2,"v":-12},{"t":39.35,"v":-26},{"t":39.5,"v":17},{"t":39.65,"v":-23},{"t":39.8,"v":0},{"t":39.95,"v":-34},
      {"t":40.1,"v":-5},{"t":40.25,"v":-27},{"t":40.4,"v":15},{"t":40.55,"v":-22},{"t":40.7,"v":3},{"t":40.85,"v":-16},{"t":41.0,"v":-1},{"t":41.15,"v":-41},{"t":41.3,"v":5},{"t":41.45,"v":-25},{"t":41.6,"v":20},{"t":41.75,"v":-28},{"t":41.9,"v":-2},{"t":42.05,"v":-20},{"t":42.2,"v":-8},{"t":42.35,"v":-24},{"t":42.5,"v":36},{"t":42.65,"v":-26},{"t":42.8,"v":1},{"t":42.95,"v":-28},
      {"t":43.1,"v":-10},{"t":43.25,"v":-23},{"t":43.4,"v":15},{"t":43.55,"v":-27},{"t":43.7,"v":-4},{"t":43.85,"v":-32},{"t":44.0,"v":-8},{"t":44.15,"v":-22},{"t":44.3,"v":3},{"t":44.45,"v":-25},{"t":44.6,"v":0},{"t":44.75,"v":-28},{"t":44.9,"v":-12},{"t":45.05,"v":-24},{"t":45.2,"v":12},{"t":45.35,"v":-26},{"t":45.5,"v":-3},{"t":45.65,"v":-20},{"t":45.8,"v":2},{"t":45.95,"v":-34},
      {"t":46.1,"v":-5},{"t":46.25,"v":-23},{"t":46.4,"v":6},{"t":46.55,"v":-27},{"t":46.7,"v":-1},{"t":46.85,"v":-18},{"t":47.0,"v":4},{"t":47.15,"v":-27},{"t":47.3,"v":0},{"t":47.45,"v":-22},{"t":47.6,"v":8},{"t":47.75,"v":-25},{"t":47.9,"v":-2},{"t":48.05,"v":-36},{"t":48.2,"v":-10},{"t":48.35,"v":-24},{"t":48.5,"v":24},{"t":48.65,"v":-26},{"t":48.8,"v":1},{"t":48.95,"v":-28},
      {"t":49.1,"v":-8},{"t":49.25,"v":-23},{"t":49.4,"v":8},{"t":49.55,"v":-27},{"t":49.7,"v":-3},{"t":49.85,"v":-18},{"t":50.0,"v":3},{"t":50.15,"v":-34},{"t":50.3,"v":5},{"t":50.45,"v":-25},{"t":50.6,"v":34},{"t":50.75,"v":-22},{"t":50.9,"v":-1},{"t":51.05,"v":-15},{"t":51.2,"v":2},{"t":51.35,"v":-30},{"t":51.5,"v":2},{"t":51.65,"v":-24},{"t":51.8,"v":13},{"t":51.95,"v":-26},
      {"t":52.1,"v":-4},{"t":52.25,"v":-18},{"t":52.4,"v":17},{"t":52.55,"v":-23},{"t":52.7,"v":0},{"t":52.85,"v":-32},{"t":53.0,"v":0},{"t":53.15,"v":-27},{"t":53.3,"v":26},{"t":53.45,"v":-25},{"t":53.6,"v":-2},{"t":53.75,"v":-27},{"t":53.9,"v":-6},{"t":54.05,"v":-22},{"t":54.2,"v":10},{"t":54.35,"v":-26},{"t":54.5,"v":3},{"t":54.65,"v":-20},{"t":54.8,"v":-3},{"t":54.95,"v":-36},
      {"t":55.1,"v":-2},{"t":55.25,"v":-24},{"t":55.4,"v":5},{"t":55.55,"v":-28},{"t":55.7,"v":1},{"t":55.85,"v":-18},{"t":56.0,"v":6},{"t":56.15,"v":-23},{"t":56.3,"v":-4},{"t":56.45,"v":-30},{"t":56.6,"v":10},{"t":56.75,"v":-25},{"t":56.9,"v":2},{"t":57.05,"v":-15},{"t":57.2,"v":-1},{"t":57.35,"v":-32},{"t":57.5,"v":-2},{"t":57.65,"v":-26},{"t":57.8,"v":5},{"t":57.95,"v":-22},
      {"t":58.1,"v":-3},{"t":58.25,"v":-20},{"t":58.4,"v":3},{"t":58.55,"v":-34},{"t":58.7,"v":-5},{"t":58.85,"v":-27},{"t":59.0,"v":6},{"t":59.15,"v":-24},{"t":59.3,"v":0},{"t":59.45,"v":-15},{"t":59.6,"v":10},{"t":59.75,"v":-26},{"t":59.9,"v":-2},{"t":60.05,"v":-20},{"t":60.2,"v":4},{"t":60.35,"v":-36},{"t":60.5,"v":5},{"t":60.65,"v":-25},{"t":60.8,"v":-1},{"t":60.95,"v":-34},
      {"t":61.1,"v":10},{"t":61.25,"v":-23},{"t":61.4,"v":47},{"t":61.55,"v":-27},{"t":61.7,"v":0},{"t":61.85,"v":-38},{"t":61.95,"v":13},
      {"t":62.2,"v":-44},{"t":63.2,"v":-44},{"t":63.45,"v":3},{"t":63.6,"v":-22},{"t":63.75,"v":-4},{"t":63.9,"v":-18},{"t":64.05,"v":0}
    ]
  }
}
